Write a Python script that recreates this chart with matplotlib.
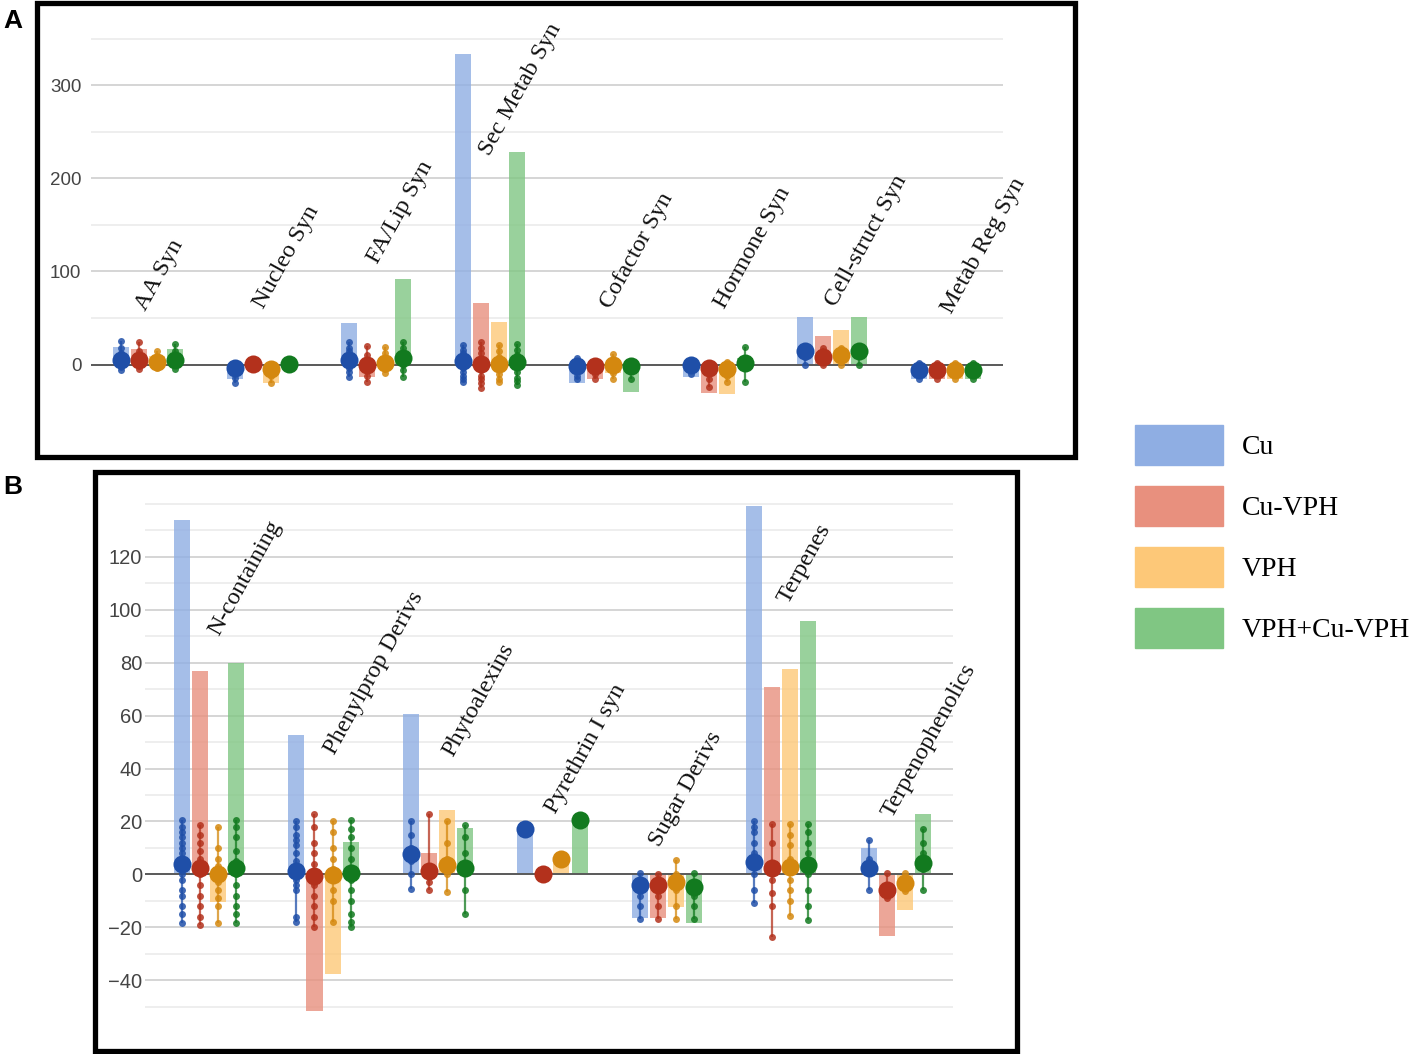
import matplotlib.pyplot as plt
import numpy as np
from matplotlib.patches import Patch, Rectangle

plt.rcParams['font.family'] = ['Liberation Sans', 'DejaVu Sans']

SERIES = ["Cu", "Cu-VPH", "VPH", "VPH+Cu-VPH"]
BAR_COLORS = ["#8FAEE3", "#E8907E", "#FDC878", "#80C683"]
DOT_COLORS = ["#1F4FA8", "#B3311C", "#D4880F", "#127A1F"]

# ---- panel A data ----
cats_a = ["AA Syn", "Nucleo Syn", "FA/Lip Syn", "Sec Metab Syn",
          "Cofactor Syn", "Hormone Syn", "Cell-struct Syn", "Metab Reg Syn"]

bars_a_cu = [19, -15, 45, 333, -19.5, -13.5, 51, -16]
bars_a_cuvph = [17, 0, -13, 66, -15, -31, 31, -15]
bars_a_vph = [9, -20, 5, 46, -9.5, -32, 37, -15]
bars_a_mix = [17, 0, 91.5, 228.5, -29, 7, 51, -16]

means_a_cu = [5, -3.5, 5, 4, -1.5, 0, 14, -6]
means_a_cuvph = [5, 0.5, 0, 1, -1.5, -3.5, 8.5, -6]
means_a_vph = [3, -5, 2, 1, 0, -5, 10, -6]
means_a_mix = [5, 0.5, 7, 3, -1.5, 1.5, 14, -6]

points_a_cu = [[25, 18, 12, 8, 3, 0, -3, -6], [2, -2, -8, -14, -20],
               [24, 18, 14, 10, 6, 2, -4, -8, -13],
               [21, 16, 12, 8, 4, 0, -4, -8, -12, -16, -19],
               [7, 2, -6, -12, -15.6], [3.5, -2, -10], [20, 14, 8, 0], [1.5, -6, -16]]
points_a_cuvph = [[24, 15, 8, 2, -2, -5], [2, -1], [19.5, 10, 2, -6, -12, -19],
                  [24, 18, 12, 6, 0, -6, -12, -16, -20, -25],
                  [3, -4, -10, -15], [2, -8, -16, -24.5], [18, 12, 4, 0], [1.5, -6, -16]]
points_a_vph = [[14, 8, 2, -4], [0, -6, -12, -20], [19, 12, 6, 0, -5, -9],
                [21, 14, 8, 2, -4, -10, -15, -19],
                [11, 5, -3, -9, -15], [3, -4, -12, -18.6], [18, 12, 4, 0], [1.5, -6, -16]]
points_a_mix = [[22, 14, 8, 2, -5], [2, -1], [24, 18, 12, 6, 0, -6, -13],
                [22, 16, 10, 4, -2, -8, -14, -18, -22],
                [3, -6, -15], [18.5, 1.5, -19], [18, 12, 0], [1.5, -6, -16]]

# ---- panel B data ----
cats_b = ["N-containing", "Phenylprop Derivs", "Phytoalexins", "Pyrethrin I syn",
          "Sugar Derivs", "Terpenes", "Terpenophenolics"]

bars_b_cu = [134, 52.6, 60.7, 17.2, -16.5, 139, 10]
bars_b_cuvph = [77, -51.5, 8.2, 0, -16.5, 70.7, -23.4]
bars_b_vph = [-10.6, -37.8, 24.3, 5.9, -12.4, 77.6, -13.3]
bars_b_mix = [80, 12.4, 17.4, 20.6, -18.5, 95.9, 22.7]

means_b_cu = [4, 1.4, 7.8, 17.2, -4.1, 4.8, 2.3]
means_b_cuvph = [2.3, -0.7, 1.4, 0, -4.1, 2.3, -5.9]
means_b_vph = [0, -0.4, 3.4, 5.9, -2.7, 2.7, -3.4]
means_b_mix = [2.3, 0.7, 2.3, 20.6, -4.8, 3.4, 4.5]

points_b_cu = [[20.6, 18, 16, 14, 12, 10, 8, 6, 4, 2, 0, -2, -6, -8, -12, -15, -18.3],
               [20, 18, 15, 13, 11, 8, 5, 3, 0, -2, -4, -6, -16, -18],
               [20, 15, 10, 5, 0, -5.5], [17.2], [0.4, -4, -8, -12, -17],
               [20, 18, 16, 12, 8, 4, 0, -6, -10.7], [13, 6, 2, -5.9]]
points_b_cuvph = [[18.8, 15, 12, 9, 6, 3, 0, -4, -8, -12, -16, -19],
                  [23, 18, 12, 8, 4, 0, -4, -8, -12, -16, -20],
                  [23, 2, -3, -6], [0], [0, -4, -8, -12, -17],
                  [19.2, 12, 4, -2, -7, -12, -23.8], [0.4, -5.9, -8.9]]
points_b_vph = [[18, 10, 6, 3, 0, -3, -6, -9, -12, -18.5],
                [20, 16, 10, 6, 2, -2, -6, -10, -18],
                [20, 12, 6, 0, -6.5], [5.9], [5.5, 0, -6, -12, -17],
                [19.2, 15, 11, 6, 2, -2, -6, -10, -15.8], [0.4, -3.4, -6.2]]
points_b_mix = [[20.6, 18, 14, 9, 5, 2, 0, -4, -8, -12, -15, -18.5],
                [20.6, 17, 14, 10, 6, 2, -2, -6, -10, -15, -18, -20],
                [18.8, 14, 8, 2, -6, -15], [20.6], [0.4, -4, -8, -12, -17],
                [19.2, 16, 12, 8, 4, 0, -6, -12, -17.2], [17.2, 12, 8, 2, -5.9]]

# label placement (layout only)
label_y_a = [57, 59, 107, 223, 59, 59, 61, 54]
label_dx_a = [-0.02, 0.01, 0.01, 0.0, 0.06, 0.06, 0.03, 0.05]
label_y_b = [90, 45, 44, 22.5, 10, 102, 21]
label_dx_b = [0.09, 0.1, 0.13, 0.03, -0.06, 0.06, -0.03]

OFFSETS = [-0.237, -0.079, 0.079, 0.237]
W, H = 1415, 1054


def draw_panel(ax, cats, bars, means, points, label_y, label_dx, bar_w):
    x = np.arange(len(cats))
    for s in range(4):
        xs = x + OFFSETS[s]
        ax.bar(xs, bars[s], width=bar_w, color=BAR_COLORS[s], alpha=0.8, zorder=2)
        for i, pts in enumerate(points[s]):
            ax.vlines(xs[i], min(pts), max(pts), color=DOT_COLORS[s], lw=1.6, alpha=0.75, zorder=3)
            ax.plot([xs[i]] * len(pts), pts, 'o', ms=5, color=DOT_COLORS[s], alpha=0.85, mec='none', zorder=4)
        ax.plot(xs, means[s], 'o', ms=13, color=DOT_COLORS[s], mec='none', ls='none', zorder=5)
    for i, c in enumerate(cats):
        ax.text(i + label_dx[i], label_y[i], c, rotation=61, rotation_mode='anchor',
                ha='left', va='baseline', fontsize=17.5, family=['Liberation Serif', 'DejaVu Serif'],
                color='#111111', zorder=6)
    ax.axhline(0, color='#5a5a5a', lw=1.4, zorder=3)
    ax.set_xticks([])
    for sp in ax.spines.values():
        sp.set_visible(False)
    ax.grid(axis='y', which='major', color='#d2d2d2', lw=1.3, zorder=0)
    ax.grid(axis='y', which='minor', color='#ebebeb', lw=1.2, zorder=0)
    ax.tick_params(axis='y', which='both', length=0, colors='#444444')
    ax.set_axisbelow(True)


fig = plt.figure(figsize=(W / 100, H / 100), dpi=100)

# panel A
ax_a = fig.add_axes([91 / W, 1 - 434.4 / H, 912 / W, 405.2 / H])
draw_panel(ax_a, cats_a,
           [bars_a_cu, bars_a_cuvph, bars_a_vph, bars_a_mix],
           [means_a_cu, means_a_cuvph, means_a_vph, means_a_mix],
           [points_a_cu, points_a_cuvph, points_a_vph, points_a_mix],
           label_y_a, label_dx_a, 0.135)
ax_a.set_xlim(-0.5, 7.5)
ax_a.set_ylim(-75, 360)
ax_a.set_yticks([0, 100, 200, 300])
ax_a.set_yticks([50, 150, 250, 350], minor=True)
ax_a.tick_params(axis='y', labelsize=13.5, pad=7)

# panel B
ax_b = fig.add_axes([145 / W, 1 - 1020 / H, 808 / W, 529.4 / H])
draw_panel(ax_b, cats_b,
           [bars_b_cu, bars_b_cuvph, bars_b_vph, bars_b_mix],
           [means_b_cu, means_b_cuvph, means_b_vph, means_b_mix],
           [points_b_cu, points_b_cuvph, points_b_vph, points_b_mix],
           label_y_b, label_dx_b, 0.14)
ax_b.set_xlim(-0.56, 6.5)
ax_b.set_ylim(-55, 145)
ax_b.set_yticks(np.arange(-40, 121, 20))
ax_b.set_yticks([-50, -30, -10, 10, 30, 50, 70, 90, 110, 130, 140], minor=True)
ax_b.tick_params(axis='y', labelsize=14.5, pad=2)

# panel frames and letters
fig.add_artist(Rectangle((37 / W, 1 - 457 / H), 1038 / W, 454 / H, transform=fig.transFigure,
                         fill=False, ec='black', lw=3.8))
fig.add_artist(Rectangle((95 / W, 1 - 1051 / H), 922 / W, 579 / H, transform=fig.transFigure,
                         fill=False, ec='black', lw=3.8))
fig.text(3 / W, 1 - 28 / H, "A", fontsize=19, fontweight='bold')
fig.text(3 / W, 1 - 494 / H, "B", fontsize=19, fontweight='bold')

handles = [Patch(color=c) for c in BAR_COLORS]
fig.legend(handles, SERIES, loc='upper left', bbox_to_anchor=(1135 / W, 1 - 425 / H),
           frameon=False, borderpad=0, borderaxespad=0, handlelength=3.17,
           handleheight=1.84, labelspacing=0.76, handletextpad=0.68,
           prop={'family': ['Liberation Serif', 'DejaVu Serif'], 'size': 20})

fig.savefig("out.png", dpi=100)
